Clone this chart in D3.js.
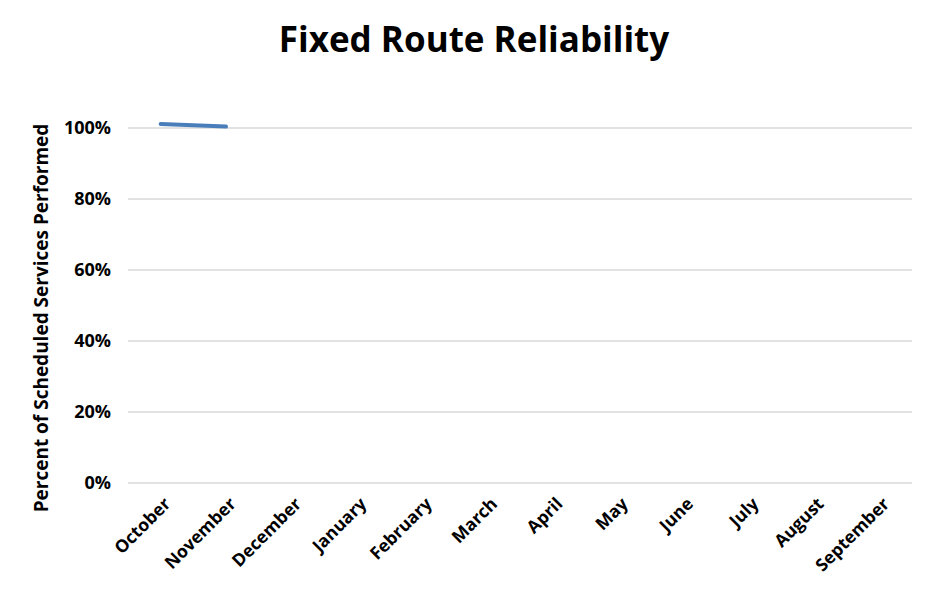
<!DOCTYPE html>
<html><head><meta charset="utf-8">
<script src="https://cdn.jsdelivr.net/npm/d3@7"></script>
<style>body{margin:0;background:#fff}text{font-family:"Open Sans","Liberation Sans",sans-serif;font-weight:bold}</style>
</head><body><svg id="c" width="947" height="595"></svg>
<script>
const months=["October","November","December","January","February","March","April","May","June","July","August","September"];
const values=[1.011,1.004];
const yTicks=[0,0.2,0.4,0.6,0.8,1.0];
const svg=d3.select("#c");
const L=128,R=912,T=128,B=483;
const x=d3.scaleBand().domain(months).range([L,R]);
const y=d3.scaleLinear().domain([0,1]).range([B,T]);
svg.append("g").selectAll("line").data(yTicks).join("line")
 .attr("x1",L).attr("x2",R).attr("y1",d=>y(d)).attr("y2",d=>y(d))
 .attr("stroke","#d9d9d9").attr("stroke-width",1.3);
svg.append("g").selectAll("text").data(yTicks).join("text")
 .attr("x",L-17).attr("y",d=>y(d)+6).attr("text-anchor","end").attr("font-size",18).attr("fill","#000")
 .text(d3.format(".0%"));
svg.append("g").selectAll("text").data(months).join("text")
 .attr("transform",d=>`translate(${x(d)+x.bandwidth()/2+11},${B+22}) rotate(-45)`)
 .attr("text-anchor","end").attr("font-size",17.5).attr("fill","#000").text(d=>d);
svg.append("path").datum(values)
 .attr("d",d3.line().x((d,i)=>x(months[i])+x.bandwidth()/2).y(d=>y(d)))
 .attr("fill","none").attr("stroke","#4a7ebb").attr("stroke-width",4).attr("stroke-linecap","round");
svg.append("text").attr("x",474).attr("y",52).attr("text-anchor","middle").attr("font-size",35).attr("fill","#000").text("Fixed Route Reliability");
svg.append("text").attr("transform","translate(48,318) rotate(-90)").attr("text-anchor","middle").attr("font-size",19).attr("fill","#000").text("Percent of Scheduled Services Performed");
</script></body></html>
